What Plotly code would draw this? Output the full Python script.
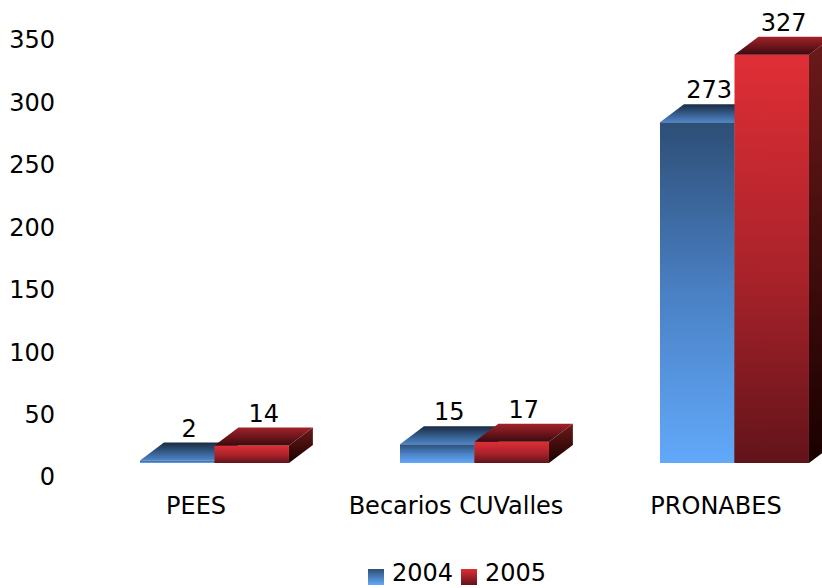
import plotly.graph_objects as go

categories = ["PEES", "Becarios CUValles", "PRONABES"]
years = ["2004", "2005"]
values_2004 = [2, 15, 273]
values_2005 = [14, 17, 327]

W, H = 822, 588
LEFT, BOTTOM = 56, 111

# 3d look, in axis units
floor = 11.2
depth_x = 0.092
depth_y = 14.4
bar_w = 0.2865
group_off = -0.2154

styles = {
    "2004": dict(front=[[0, "#62a9fa"], [0.5, "#4a80c4"], [1, "#2d4e76"]],
                 top=[[0, "#4d86c8"], [1, "#1a2b42"]],
                 side=[[0, "#0e1a2a"], [1, "#24406a"]],
                 legend=("#2d4e76", "#62a9fa")),
    "2005": dict(front=[[0, "#62131a"], [0.45, "#a8222a"], [1, "#e02e36"]],
                 top=[[0, "#3c0a0e"], [1, "#a2222a"]],
                 side=[[0, "#1a0000"], [1, "#6c1a1a"]],
                 legend=("#e02e36", "#62131a")),
}

# legend entries, pixel positions (symbol centre x, text left x), symbol centre y
legend_pos = {"2004": (376, 391), "2005": (469, 484)}
legend_y = 577

fig = go.Figure()


def face(xs, ys, scale):
    fig.add_trace(go.Scatter(
        x=xs + [xs[0]], y=ys + [ys[0]], mode="lines", fill="toself",
        line=dict(width=0), fillcolor=scale[-1][1],
        fillgradient=dict(type="vertical", colorscale=scale),
        hoverinfo="skip", showlegend=False))


label_x, label_y, label_t = [], [], []
for k, (yr, vals) in enumerate(zip(years, [values_2004, values_2005])):
    st = styles[yr]
    for i, v in enumerate(vals):
        xl = i + group_off + k * bar_w
        xr = xl + bar_w
        y0, y1 = floor, floor + v
        face([xl, xr, xr, xl], [y0, y0, y1, y1], st["front"])
        face([xr, xr + depth_x, xr + depth_x, xr], [y0, y0 + depth_y, y1 + depth_y, y1], st["side"])
        face([xl, xr, xr + depth_x, xl + depth_x], [y1, y1, y1 + depth_y, y1 + depth_y], st["top"])
        label_x.append(xl + bar_w / 2 + depth_x / 2)
        label_y.append(y1 + depth_y)
        label_t.append(str(v))

fig.add_trace(go.Scatter(x=label_x, y=label_y, text=label_t, mode="text",
                         textposition="top center",
                         textfont=dict(size=24, color="black"),
                         hoverinfo="skip", showlegend=False, cliponaxis=False))

# legend drawn by hand on a second, invisible axis pair spanning the whole figure
for yr in years:
    c1, c2 = styles[yr]["legend"]
    sx, tx = legend_pos[yr]
    fig.add_trace(go.Scatter(x=[(sx - LEFT) / (W - LEFT)], y=[(H - legend_y) / H],
                             xaxis="x2", yaxis="y2", mode="markers", showlegend=False,
                             hoverinfo="skip", cliponaxis=False,
                             marker=dict(symbol="square", size=16, color=c1, line=dict(width=0),
                                         gradient=dict(type="vertical", color=c2))))
    fig.add_annotation(text=yr, xref="paper", yref="paper",
                       x=(tx - LEFT) / (W - LEFT), y=0,
                       xanchor="left", yanchor="bottom", showarrow=False,
                       font=dict(size=24, color="black"), borderpad=0)

fig.update_layout(
    width=W, height=H,
    margin=dict(l=LEFT, r=0, t=0, b=0, autoexpand=False),
    paper_bgcolor="white", plot_bgcolor="rgba(0,0,0,0)", showlegend=False,
    font=dict(family="DejaVu Sans, Verdana, sans-serif", size=24, color="black"),
    xaxis=dict(range=[-0.5385, 2.4077], tickvals=[0, 1, 2], ticktext=categories,
               showgrid=False, zeroline=False, showline=False, ticks="",
               ticklabelstandoff=12),
    yaxis=dict(range=[0, 382.04], tickvals=list(range(0, 351, 50)),
               domain=[BOTTOM / H, 1],
               showgrid=False, zeroline=False, showline=False, ticks=""),
    xaxis2=dict(range=[0, 1], domain=[0, 1], anchor="y2", visible=False),
    yaxis2=dict(range=[0, 1], domain=[0, 1], anchor="x2", visible=False),
)

fig.write_html("out.html", config={"displayModeBar": False},
               post_script="document.body.style.margin = '0';")
